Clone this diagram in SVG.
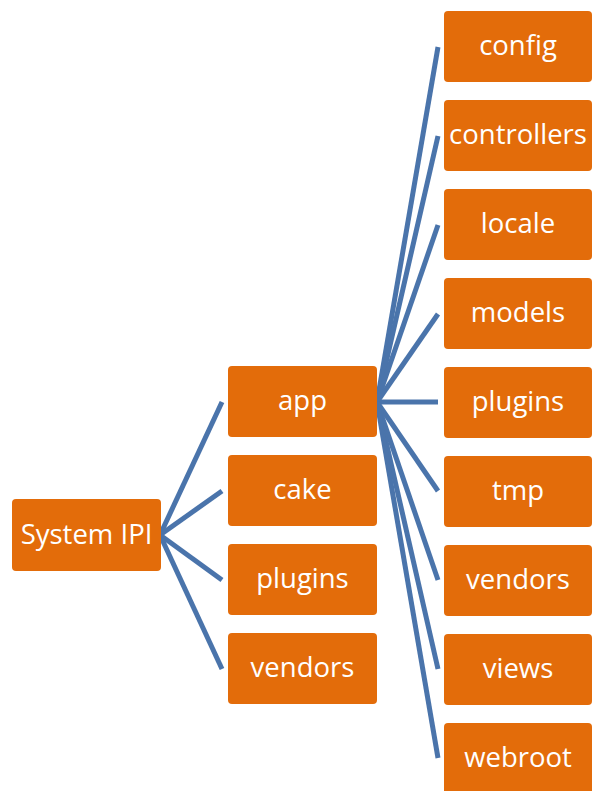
<svg xmlns="http://www.w3.org/2000/svg" width="592" height="791" viewBox="0 0 592 791">
<style>
.n rect{fill:#E36C0A;}
.n text{fill:#fff;font-family:"Open Sans","Noto Sans",sans-serif;font-size:27.5px;text-anchor:middle;dominant-baseline:central;}
.c line{stroke:#4A74AB;stroke-width:5;stroke-linecap:butt;}
</style>
<rect width="592" height="791" fill="#fff"/>
<g id="connectors" class="c">
<line x1="160" y1="535" x2="222" y2="402"/>
<line x1="160" y1="535" x2="222" y2="491"/>
<line x1="160" y1="535" x2="222" y2="580"/>
<line x1="160" y1="535" x2="222" y2="669"/>
<line x1="377" y1="402" x2="438" y2="47"/>
<line x1="377" y1="402" x2="438" y2="136"/>
<line x1="377" y1="402" x2="438" y2="225"/>
<line x1="377" y1="402" x2="438" y2="314"/>
<line x1="377" y1="402" x2="438" y2="402"/>
<line x1="377" y1="402" x2="438" y2="491"/>
<line x1="377" y1="402" x2="438" y2="580"/>
<line x1="377" y1="402" x2="438" y2="669"/>
<line x1="377" y1="402" x2="438" y2="758"/>
</g>
<g id="root" class="n"><rect x="12" y="499" width="149" height="72" rx="4"/><text x="86.5" y="533">System IPI</text></g>
<g id="app" class="n"><rect x="228" y="366" width="149" height="71" rx="4"/><text x="302.5" y="399.5">app</text></g>
<g id="cake" class="n"><rect x="228" y="455" width="149" height="71" rx="4"/><text x="302.5" y="488.5">cake</text></g>
<g id="plugins1" class="n"><rect x="228" y="544" width="149" height="71" rx="4"/><text x="302.5" y="577.5">plugins</text></g>
<g id="vendors1" class="n"><rect x="228" y="633" width="149" height="71" rx="4"/><text x="302.5" y="666.5">vendors</text></g>
<g id="config" class="n"><rect x="444" y="11" width="148" height="71" rx="4"/><text x="518" y="44.5">config</text></g>
<g id="controllers" class="n"><rect x="444" y="100" width="148" height="71" rx="4"/><text x="518" y="133.5">controllers</text></g>
<g id="locale" class="n"><rect x="444" y="189" width="148" height="71" rx="4"/><text x="518" y="222.5">locale</text></g>
<g id="models" class="n"><rect x="444" y="278" width="148" height="71" rx="4"/><text x="518" y="311.5">models</text></g>
<g id="plugins2" class="n"><rect x="444" y="367" width="148" height="71" rx="4"/><text x="518" y="400.5">plugins</text></g>
<g id="tmp" class="n"><rect x="444" y="456" width="148" height="71" rx="4"/><text x="518" y="489.5">tmp</text></g>
<g id="vendors2" class="n"><rect x="444" y="545" width="148" height="71" rx="4"/><text x="518" y="578.5">vendors</text></g>
<g id="views" class="n"><rect x="444" y="634" width="148" height="71" rx="4"/><text x="518" y="667.5">views</text></g>
<g id="webroot" class="n"><rect x="444" y="723" width="148" height="71" rx="4"/><text x="518" y="756.5">webroot</text></g>
</svg>
